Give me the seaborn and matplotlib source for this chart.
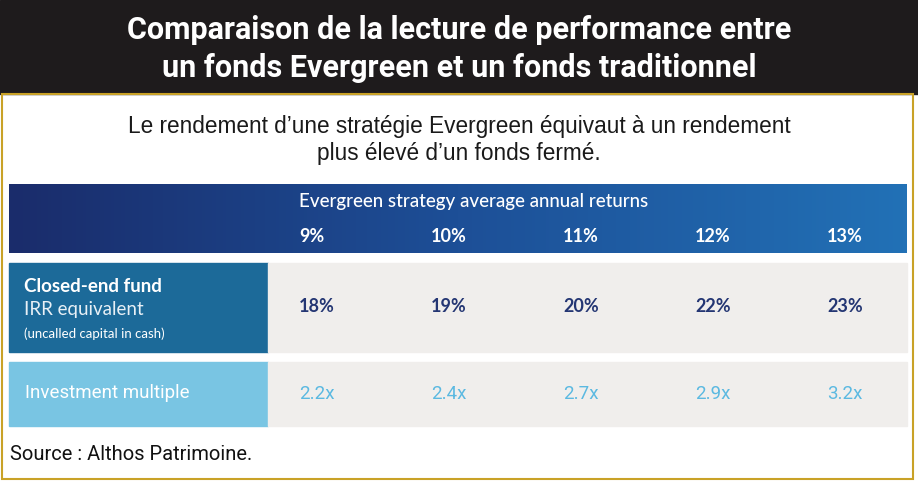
import numpy as np
import seaborn as sns
import matplotlib.pyplot as plt
from matplotlib.patches import Rectangle

# Données du tableau
taux_evergreen = ["9%", "10%", "11%", "12%", "13%"]
irr_fonds_ferme = ["18%", "19%", "20%", "22%", "23%"]
multiple_invest = ["2.2x", "2.4x", "2.7x", "2.9x", "3.2x"]

titre = "Comparaison de la lecture de performance entre\nun fonds Evergreen et un fonds traditionnel"
sous_titre = "Le rendement d\u2019une stratégie Evergreen équivaut à un rendement\nplus élevé d\u2019un fonds fermé."
entete = "Evergreen strategy average annual returns"
source = "Source : Althos Patrimoine."

sns.set_theme(style="white")
plt.rcParams['font.family'] = ['Lato', 'DejaVu Sans']
police_etroite = ['Roboto', 'DejaVu Sans']

W, H = 918, 482
fig = plt.figure(figsize=(W / 100, H / 100), dpi=100)
ax = fig.add_axes([0, 0, 1, 1])
ax.set_xlim(0, W)
ax.set_ylim(H, 0)
ax.axis('off')

# Bandeau titre + cadre doré
ax.add_patch(Rectangle((0, 0), W, 94, color='#1e1b1c', zorder=1))
ax.add_patch(Rectangle((2, 94), W - 7, H - 97, fill=False, edgecolor='#c9a227', lw=1.5, zorder=2))
ax.text(W / 2, 49, titre, ha='center', va='center', color='white', fontsize=22,
        fontweight='bold', family=police_etroite, linespacing=1.35, zorder=3)

ax.text(W / 2, 140, sous_titre, ha='center', va='center', color='#1a1a1a', fontsize=16.3,
        family=['Liberation Sans', 'DejaVu Sans'], linespacing=1.2)

# Entête en dégradé
x0, x1 = 9, 907
grad = np.linspace(0, 1, 256).reshape(1, -1)
cmap_entete = sns.blend_palette(['#1a2c6b', '#1d4f97', '#2271b6'], as_cmap=True)
ax.imshow(grad, cmap=cmap_entete, aspect='auto', extent=(x0, x1, 253, 184), zorder=1)

col_x = [299 + 132 * i for i in range(len(taux_evergreen))]
ax.text(col_x[0], 201, entete, color='white', fontsize=13.5, va='center', fontweight='medium')
for x, t in zip(col_x, taux_evergreen):
    ax.text(x, 236, t, color='white', fontsize=13, va='center', fontweight='bold')

# Ligne 1 : IRR
ax.add_patch(Rectangle((x0, 263), 259, 89, color='#1c6a99'))
ax.add_patch(Rectangle((268, 263), x1 - 268, 89, color='#f0eeec'))
ax.text(24, 287, "Closed-end fund", color='white', fontsize=13.5, va='center', fontweight='bold')
ax.text(24, 310, "IRR equivalent", color='#e8f0f6', fontsize=13.5, va='center')
ax.text(24, 334, "(uncalled capital in cash)", color='white', fontsize=9.5, va='center')
for x, v in zip(col_x, irr_fonds_ferme):
    ax.text(x, 306, v, color='#243673', fontsize=13, va='center', fontweight='bold')

# Ligne 2 : multiple
ax.add_patch(Rectangle((x0, 362), 259, 64, color='#79c5e3'))
ax.add_patch(Rectangle((268, 362), x1 - 268, 64, color='#f0eeec'))
ax.text(25, 393, "Investment multiple", color='white', fontsize=13.5, va='center',
        family=police_etroite)
for x, v in zip(col_x, multiple_invest):
    ax.text(x, 394, v, color='#5bb9e1', fontsize=13.5, va='center', family=police_etroite)

ax.text(10, 455, source, color='#111111', fontsize=14.5, va='center', family=police_etroite)

fig.savefig("out.png", dpi=100)
